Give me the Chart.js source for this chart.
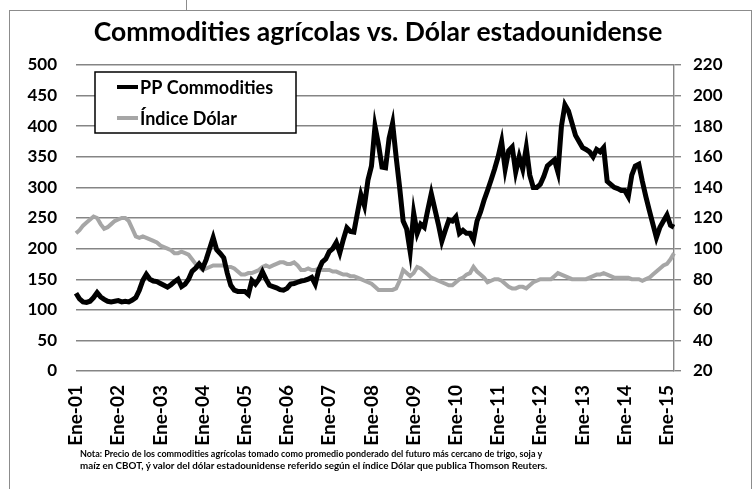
<!DOCTYPE html>
<html>
<head>
<meta charset="utf-8">
<script src="https://cdn.jsdelivr.net/npm/chart.js@4.4.1/dist/chart.umd.min.js"></script>
<style>
  body { margin: 0; background: #fff; }
  #wrap { position: relative; width: 756px; height: 489px; overflow: hidden; }
  #marco { position: absolute; left: 9px; top: 10px; width: 743px; height: 500px; border: 1px solid #8c8c8c; box-sizing: border-box; }
  #raya { position: absolute; left: 186px; top: 0; width: 1px; height: 10px; background: #8c8c8c; }
  canvas { position: absolute; left: 0; top: 0; }
  .nota { position: absolute; left: 80px; font: bold 10px Lato; white-space: nowrap; transform-origin: 0 0; color: #000; }
</style>
</head>
<body>
<div id="wrap">
  <div id="marco"></div>
  <div id="raya"></div>
  <canvas id="grafico" width="756" height="489"></canvas>
  <div class="nota" id="nota1" style="top:447px">Nota: Precio de los commodities agrícolas tomado como promedio ponderado del futuro más cercano de trigo, soja y</div>
  <div class="nota" id="nota2" style="top:459px">maíz en CBOT, ý valor del dólar estadounidense referido según el índice Dólar que publica Thomson Reuters.</div>
</div>
<script>
// meses de ene-2001 a mar-2015
const meses = ['Ene', 'Feb', 'Mar', 'Abr', 'May', 'Jun', 'Jul', 'Ago', 'Sep', 'Oct', 'Nov', 'Dic'];
const anios = ['01', '02', '03', '04', '05', '06', '07', '08', '09', '10', '11', '12', '13', '14', '15'];
const mesesUltimoAnio = 3;

// PP Commodities (eje izquierdo)
const ppCommodities = [
  127, 118, 113, 112, 114, 120, 128, 121, 117, 114, 113, 114,   // 2001
  115, 113, 114, 113, 116, 120, 132, 148, 158, 150, 147, 146,   // 2002
  143, 140, 137, 141, 146, 150, 138, 142, 150, 163, 168, 175,   // 2003
  168, 182, 200, 218, 198, 192, 185, 160, 140, 132, 130, 130,   // 2004
  130, 125, 148, 142, 150, 162, 150, 140, 138, 136, 133, 132,   // 2005
  135, 142, 143, 145, 147, 148, 150, 153, 142, 165, 178, 183,   // 2006
  195, 200, 210, 193, 215, 234, 228, 227, 258, 288, 270, 312,   // 2007
  335, 400, 370, 333, 332, 380, 405, 350, 300, 245, 232, 195,   // 2008
  258, 225, 240, 235, 263, 290, 265, 240, 212, 230, 247, 245,   // 2009
  252, 225, 230, 225, 225, 214, 245, 260, 279, 295, 312, 330,   // 2010
  350, 375, 330, 360, 366, 325, 350, 330, 365, 320, 300, 300,   // 2011
  305, 318, 335, 340, 345, 325, 400, 435, 425, 405, 385, 375,   // 2012
  365, 362, 358, 350, 362, 358, 365, 310, 305, 300, 298, 295,   // 2013
  295, 285, 320, 335, 338, 310, 285, 262, 240, 218, 235, 245,   // 2014
  255, 238, 235                                                 // 2015
];

// Índice Dólar (eje derecho)
const indiceDolar = [
  110, 112, 115, 117, 119, 121, 120, 116, 113, 114, 116, 118,   // 2001
  119, 120, 120, 118, 113, 108, 107, 108, 107, 106, 105, 104,   // 2002
  102, 101, 100, 99, 97, 97, 98, 97, 96, 93, 90, 88,            // 2003
  86, 87, 88, 89, 89, 89, 89, 88, 88, 87, 85, 83,               // 2004
  83, 84, 84, 85, 86, 88, 89, 88, 89, 90, 91, 91,               // 2005
  90, 90, 91, 89, 86, 86, 87, 86, 86, 87, 86, 86,               // 2006
  86, 85, 85, 84, 83, 83, 82, 82, 81, 80, 79, 78,               // 2007
  77, 75, 73, 73, 73, 73, 73, 74, 79, 86, 84, 82,               // 2008
  84, 88, 87, 85, 83, 81, 80, 79, 78, 77, 76, 76,               // 2009
  78, 80, 81, 83, 84, 88, 85, 83, 81, 78, 79, 80,               // 2010
  80, 79, 77, 75, 74, 74, 75, 75, 74, 76, 78, 79,               // 2011
  80, 80, 80, 80, 82, 84, 83, 82, 81, 80, 80, 80,               // 2012
  80, 80, 81, 82, 83, 83, 84, 83, 82, 81, 81, 81,               // 2013
  81, 81, 80, 80, 80, 79, 80, 81, 83, 85, 87, 89,               // 2014
  90, 93, 97                                                    // 2015
];

const categorias = [];
anios.forEach(function (a, i) {
  const n = i === anios.length - 1 ? mesesUltimoAnio : 12;
  for (let m = 0; m < n; m++) categorias.push(meses[m] + '-' + a);
});

const gris = '#858585';
const fuente = 'Lato';

// leyenda con recuadro dentro del área del gráfico
const leyendaCaja = {
  id: 'leyendaCaja',
  afterDatasetsDraw(chart) {
    const ctx = chart.ctx, a = chart.chartArea;
    const x = a.left + 19, y = a.top + 7, w = 201, h = 61;
    ctx.save();
    ctx.fillStyle = '#fff';
    ctx.fillRect(x, y, w, h);
    ctx.strokeStyle = '#000';
    ctx.lineWidth = 1.5;
    ctx.strokeRect(x, y, w, h);
    chart.data.datasets.forEach(function (ds, i) {
      const cy = y + 15 + i * 31;
      ctx.strokeStyle = ds.borderColor;
      ctx.lineWidth = 4;
      ctx.beginPath();
      ctx.moveTo(x + 22, cy);
      ctx.lineTo(x + 43, cy);
      ctx.stroke();
      ctx.fillStyle = '#000';
      ctx.font = 'bold 18px ' + fuente;
      ctx.textBaseline = 'middle';
      ctx.fillText(ds.label, x + 45, cy + 1);
    });
    ctx.restore();
  }
};

new Chart(document.getElementById('grafico'), {
  type: 'line',
  data: {
    labels: categorias,
    datasets: [{
      label: 'PP Commodities',
      data: ppCommodities,
      borderColor: '#000000',
      borderWidth: 5,
      pointRadius: 0,
      tension: 0,
      yAxisID: 'y'
    }, {
      label: 'Índice Dólar',
      data: indiceDolar,
      borderColor: '#a6a6a6',
      borderWidth: 4,
      pointRadius: 0,
      tension: 0,
      yAxisID: 'y1'
    }]
  },
  options: {
    responsive: false,
    animation: false,
    layout: { padding: 0 },
    plugins: {
      legend: { display: false },
      tooltip: { enabled: false },
      title: {
        display: true,
        text: 'Commodities agrícolas vs. Dólar estadounidense',
        color: '#000',
        font: { family: fuente, size: 26.5, weight: 'bold' },
        padding: { top: 17, bottom: 16.2 }
      }
    },
    scales: {
      x: {
        offset: false,
        grid: { display: false },
        border: { display: false },
        afterFit: function (s) { s.height = 118; },
        ticks: {
          autoSkip: false,
          minRotation: 90,
          maxRotation: 90,
          padding: 6,
          color: '#000',
          font: { family: fuente, size: 19, weight: 'bold' },
          callback: function (v, i) {
            return i % 12 === 0 ? categorias[i] : '';
          }
        }
      },
      y: {
        position: 'left',
        min: 0,
        max: 500,
        afterFit: function (s) { s.width = 76; },
        grid: { color: gris, lineWidth: 1.4, drawTicks: false },
        border: { display: false },
        ticks: {
          stepSize: 50,
          padding: 19,
          color: '#000',
          font: { family: fuente, size: 17, weight: 'bold' }
        }
      },
      y1: {
        position: 'right',
        min: 20,
        max: 220,
        afterFit: function (s) { s.width = 82; },
        grid: { drawOnChartArea: false, color: gris, lineWidth: 1.4, tickLength: 7 },
        border: { display: true, color: gris, width: 1.4 },
        ticks: {
          stepSize: 20,
          padding: 12,
          color: '#000',
          font: { family: fuente, size: 17, weight: 'bold' }
        }
      }
    }
  },
  plugins: [leyendaCaja]
});

// ajustar el ancho de la nota al del original
[['nota1', 462], ['nota2', 467]].forEach(function (p) {
  const el = document.getElementById(p[0]);
  el.style.transform = 'scaleX(' + (p[1] / el.offsetWidth) + ')';
});
</script>
</body>
</html>
